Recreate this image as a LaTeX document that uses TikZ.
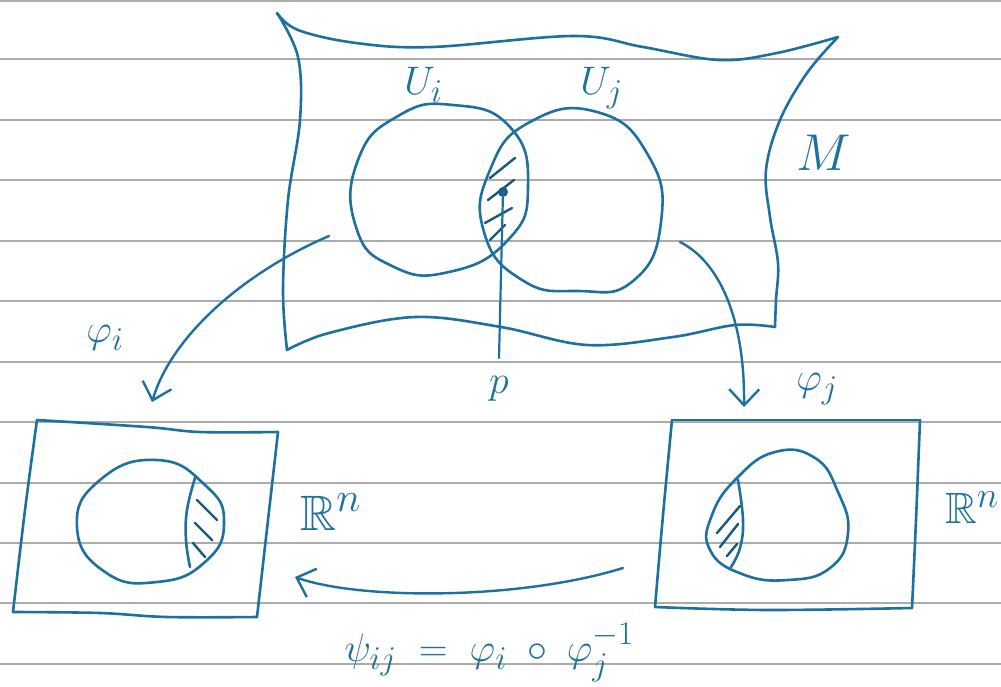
\documentclass[tikz,border=0pt]{standalone}
\usepackage{amsmath,amssymb}
\usetikzlibrary{arrows.meta}
\definecolor{ink}{RGB}{30,112,158}
\definecolor{rule}{RGB}{172,172,172}
\tikzset{
  pen/.style={draw=ink, line width=2.6pt, line cap=round, line join=round},
  hatch/.style={draw=ink!80!black, line width=2.4pt, line cap=round},
  paper/.style={draw=rule, line width=1.8pt},
  arr/.style={pen, line width=2.4pt, -{Straight Barb[length=16pt,width=30pt,line width=2.4pt]}},
  lbl/.style={text=ink, font=\Huge, scale=1.6, inner sep=0pt},
}
\begin{document}
\begin{tikzpicture}[x=1pt,y=-1pt]
\useasboundingbox (0,0) rectangle (1001,686);
\fill[white] (0,0) rectangle (1001,686);
% lined paper
\foreach \yy in {1,59,120,180,241,301,362,422,483,543,603,664}
  \draw[paper] (0,\yy) -- (1001,\yy);

% manifold M
\draw[pen] plot[smooth, tension=0.6] coordinates {(277,13) (298,30) (356,43) (432,47) (574,36) (643,47) (719,60) (777,53) (838,37)};
\draw[pen] plot[smooth, tension=0.6] coordinates {(838,37) (807,73) (780,120) (766,170) (770,217) (778,263) (776,300) (775,327)};
\draw[pen] plot[smooth, tension=0.6] coordinates {(775,327) (735,325) (673,337) (587,345) (501,327) (415,317) (329,333) (287,350)};
\draw[pen] plot[smooth, tension=0.6] coordinates {(287,350) (283,290) (288,200) (300,120) (298,57) (277,13)};

% U_i and U_j
\draw[pen] plot[smooth cycle, tension=0.85] coordinates {(453,105) (510,127) (528,187) (508,240) (449,272) (392,266) (356,227) (358,160) (398,116)};
\draw[pen] plot[smooth cycle, tension=0.85] coordinates {(597,112) (648,155) (661,222) (633,281) (578,291) (522,280) (484,232) (490,170) (530,122)};

% hatching of the overlap
\draw[hatch] (490,178) -- (515,158);
\draw[hatch] (488,200) -- (514,180);
\draw[hatch] (485,223) -- (512,208);
\draw[hatch] (490,240) -- (505,225);

% point p
\node[circle, fill=ink!85!black, inner sep=0pt, minimum size=10pt] (pt) at (503,192) {};
\coordinate (pline) at (499,358);
\draw[pen, line width=2.2pt] (pt.center) -- (pline);
\node[lbl, anchor=base] (plab) at (499,393) {$p$};

% labels in M
\node[lbl, anchor=base west] (ui) at (404,94) {$U_i$};
\node[lbl, anchor=base west] (uj) at (580,94) {$U_j$};
\node[lbl, anchor=base west, scale=1.3] (mlab) at (796,170) {$M$};

% left chart box
\draw[pen] plot[smooth, tension=0.6] coordinates {(37,420) (147,427) (200,432) (278,432)};
\draw[pen] (278,432) -- (257,617);
\draw[pen] plot[smooth, tension=0.6] coordinates {(257,617) (167,617) (100,613) (13,612)};
\draw[pen] plot[smooth, tension=0.6] coordinates {(13,612) (25,510) (37,420)};
\draw[pen] plot[smooth cycle, tension=0.85] coordinates {(157,460) (205,485) (224,522) (205,562) (157,582) (105,572) (77,527) (100,480)};
\draw[pen] plot[smooth, tension=0.7] coordinates {(195,478) (187,510) (186,540) (190,567)};
\draw[hatch] (197,500) -- (217,520);
\draw[hatch] (195,523) -- (212,540);
\draw[hatch] (193,543) -- (205,557);
\node[lbl, anchor=base west, scale=1.25] (rl) at (300,530) {$\mathbb{R}^n$};

% right chart box
\draw[pen] (672,420) -- (920,420);
\draw[pen] plot[smooth, tension=0.6] coordinates {(920,420) (916,520) (912,608)};
\draw[pen] plot[smooth, tension=0.6] coordinates {(912,608) (767,610) (655,607)};
\draw[pen] plot[smooth, tension=0.6] coordinates {(655,607) (663,515) (672,420)};
\draw[pen] plot[smooth cycle, tension=0.8] coordinates {(815,458) (838,492) (848,533) (830,568) (788,580) (742,574) (710,550) (712,515) (737,478) (775,452)};
\draw[pen] plot[smooth, tension=0.7] coordinates {(738,480) (743,520) (740,548) (731,567)};
\draw[hatch] (717,533) -- (740,506);
\draw[hatch] (720,547) -- (738,524);
\draw[hatch] (727,556) -- (737,544);
\node[lbl, anchor=base west, scale=1.1] (rr) at (945,523) {$\mathbb{R}^n$};

% charts phi_i, phi_j
\coordinate (phiIs) at (329,236);
\coordinate (phiIe) at (152,402);
\draw[arr] (phiIs) .. controls (245,272) and (172,335) .. (phiIe);
\node[lbl, anchor=base west] (phii) at (86,342) {$\varphi_{i}$};

\coordinate (phiJs) at (680,242);
\coordinate (phiJe) at (744,407);
\draw[arr] (phiJs) .. controls (720,262) and (745,320) .. (phiJe);
\node[lbl, anchor=base west] (phij) at (796,390) {$\varphi_{j}$};

% transition map
\coordinate (psiS) at (623,568);
\coordinate (psiE) at (295,577);
\draw[arr] (psiS) .. controls (520,600) and (360,600) .. (psiE);
\node[lbl, anchor=base west] (psilab) at (344,661) {$\psi_{ij} \;=\; \varphi_i \;\circ\; \varphi_j^{-1}$};
\end{tikzpicture}
\end{document}
